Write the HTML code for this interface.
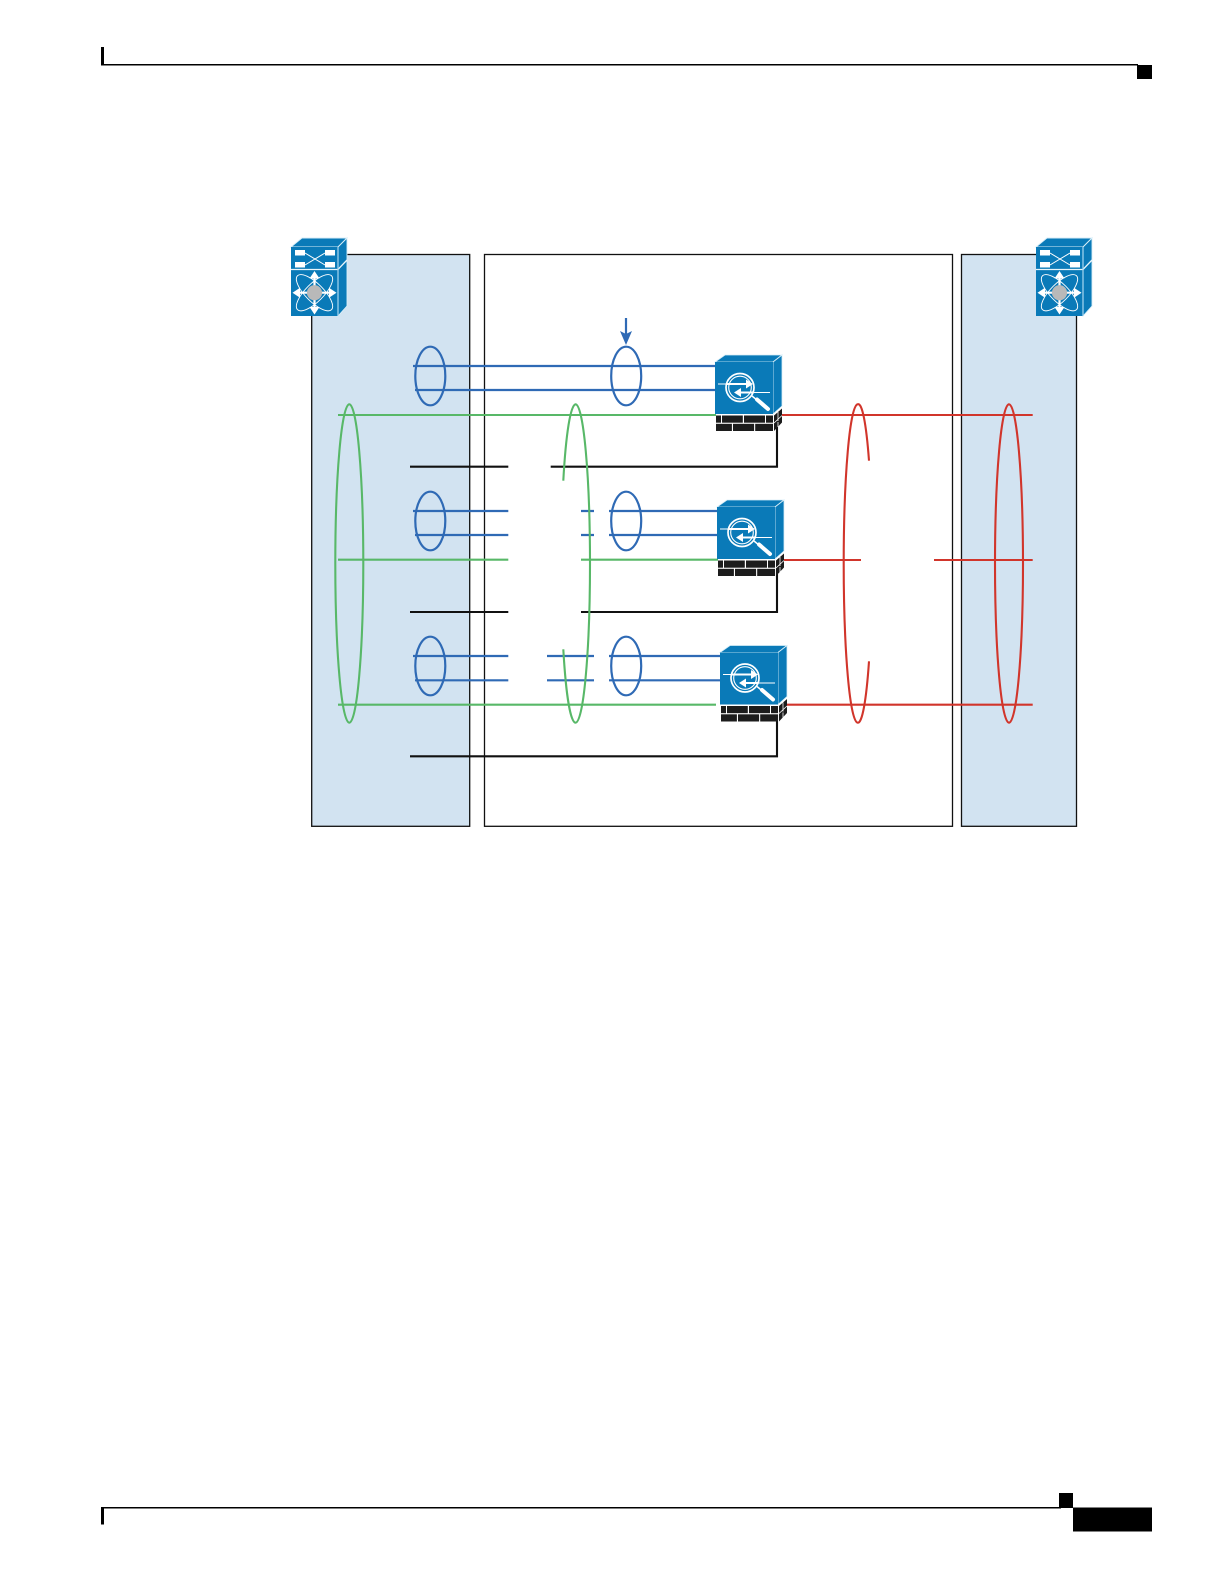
<!DOCTYPE html>
<html>
<head>
<meta charset="utf-8">
<style>
html,body{margin:0;padding:0;background:#fff;}
svg{display:block;}
</style>
</head>
<body>
<svg xmlns="http://www.w3.org/2000/svg" width="1224" height="1584" viewBox="0 0 1224 1584">
<defs>
<g id="sw">
  <polygon points="291,247 302,238 347,238 338,247" fill="#0a7ab8" stroke="#d8eef8" stroke-width=".9"/>
  <polygon points="338,247 347,238 347,306 338,316" fill="#0a7ab8" stroke="#d8eef8" stroke-width=".9"/>
  <rect x="291" y="247" width="47" height="69" fill="#0a7ab8"/>
  <path d="M291,269.500H338L347,260" stroke="#e8f5fb" stroke-width="1.300" fill="none"/>
  <path d="M338,247V316" stroke="#a8d8f0" stroke-width="1.200"/>
  <g fill="#fff">
    <rect x="295" y="250" width="10" height="5.500"/><rect x="325" y="250" width="10" height="5.500"/>
    <rect x="295" y="262" width="10" height="5.500"/><rect x="325" y="262" width="10" height="5.500"/>
  </g>
  <path d="M305,253L325,265M305,265L325,253" stroke="#fff" stroke-width="1" fill="none"/>
  <ellipse cx="314.500" cy="292.700" rx="24" ry="9" transform="rotate(45 314.500 292.700)" fill="none" stroke="#fff" stroke-width=".9"/>
  <ellipse cx="314.500" cy="292.700" rx="24" ry="9" transform="rotate(-45 314.500 292.700)" fill="none" stroke="#fff" stroke-width=".9"/>
  <path d="M314.500,276V310M297,292.700H332" stroke="#fff" stroke-width="2.200"/>
  <g fill="#fff">
    <polygon points="314.500,271 309.500,278.500 319.500,278.500"/>
    <polygon points="314.500,314.500 309.500,307 319.500,307"/>
    <polygon points="292.500,292.700 300,287.700 300,297.700"/>
    <polygon points="336.500,292.700 329,287.700 329,297.700"/>
  </g>
  <circle cx="314.500" cy="292.700" r="7.600" fill="#b9b9b9"/>
</g>
<g id="dev">
  <polygon points="0,0 10,-7 67,-7 58,0" fill="#0a7ab8" stroke="#d8eef8" stroke-width=".8"/>
  <polygon points="58,0 67,-7 67,44 58,52" fill="#0a7ab8" stroke="#d8eef8" stroke-width=".8"/>
  <rect x="0" y="0" width="58" height="52" fill="#0a7ab8"/>
  <path d="M3,22H37M22,30.500H55" stroke="#fff" stroke-width="1"/>
  <circle cx="25" cy="25.500" r="14" fill="none" stroke="#fff" stroke-width="1.700"/>
  <circle cx="25" cy="25.500" r="11.300" fill="none" stroke="#fff" stroke-width="1.100"/>
  <path d="M37,34L53,47" stroke="#fff" stroke-width="1.500"/>
  <path d="M42,37.500L53,47" stroke="#fff" stroke-width="4" stroke-linecap="round"/>
  <path d="M12,22H34M24,30.500H38" stroke="#fff" stroke-width="2"/>
  <polygon points="38,22 31,17.500 31,26.500" fill="#fff"/>
  <polygon points="19,30.500 26,26 26,35" fill="#fff"/>
  <g fill="#1c1c1c">
    <rect x="1" y="53.500" width="5" height="7.200"/><rect x="7" y="53.500" width="20.800" height="7.200"/>
    <rect x="29" y="53.500" width="21" height="7.200"/><rect x="51" y="53.500" width="7" height="7.200"/>
    <rect x="1" y="61.800" width="15.900" height="7.200"/><rect x="18" y="61.800" width="21.100" height="7.200"/>
    <rect x="40.200" y="61.800" width="17.800" height="7.200"/>
    <polygon points="59,53.500 67,46.500 67,60.500 59,69"/>
  </g>
  <path d="M59,61L67,53.500M63,50V59M63,60V65" stroke="#fff" stroke-width=".8" fill="none"/>
</g>
</defs>

<!-- page furniture -->
<rect x="101" y="47" width="3" height="18" fill="#000"/>
<rect x="101" y="64" width="1037" height="1.500" fill="#000"/>
<rect x="1137" y="65" width="15" height="14" fill="#000"/>
<rect x="101" y="1507" width="3" height="17.500" fill="#000"/>
<rect x="101" y="1507" width="960" height="1.500" fill="#000"/>
<rect x="1059" y="1493" width="14" height="15" fill="#000"/>
<rect x="1073" y="1507.500" width="79" height="24" fill="#000"/>

<!-- panels -->
<rect x="311.700" y="254.500" width="158" height="571.800" fill="#d2e3f1" stroke="#111" stroke-width="1.300"/>
<rect x="484.500" y="254.500" width="468" height="571.800" fill="#fff" stroke="#111" stroke-width="1.300"/>
<rect x="961.500" y="254.500" width="115" height="571.800" fill="#d2e3f1" stroke="#111" stroke-width="1.300"/>

<!-- black lines -->
<g stroke="#111" stroke-width="2.100" fill="none">
  <path d="M410,466.700H508.300M550.700,466.700H777V425"/>
  <path d="M410,612H508.300M581,612H777V570"/>
  <path d="M410,756.300H777V715"/>
</g>

<!-- blue lines -->
<g stroke="#2f6ab5" stroke-width="2.200" fill="none">
  <path d="M413,366H716M415,390H716"/>
  <path d="M413,511H508.300M581,511H594M609,511H718"/>
  <path d="M415,535H508.300M581,535H594M609,535H718"/>
  <path d="M413,656H508.300M547,656H594M609,656H721"/>
  <path d="M415,680.300H508.300M547,680.300H594M609,680.300H721"/>
  <ellipse cx="430.300" cy="376" rx="15" ry="29.300"/>
  <ellipse cx="430.300" cy="521" rx="15" ry="29.300"/>
  <ellipse cx="430.300" cy="666" rx="15" ry="29.300"/>
  <ellipse cx="626.200" cy="376" rx="15" ry="29.300"/>
  <ellipse cx="626.200" cy="521" rx="15" ry="29.300"/>
  <ellipse cx="626.200" cy="666" rx="15" ry="29.300"/>
  <path d="M626,318V336"/>
</g>
<polygon points="626,345 620,331 626,334 632,331" fill="#2f6ab5"/>

<!-- green lines -->
<g stroke="#58b868" stroke-width="2.100" fill="none">
  <path d="M338,415H716"/>
  <path d="M338,559.700H508.300M581,559.700H718"/>
  <path d="M338,704.700H716"/>
  <ellipse cx="349.300" cy="563.500" rx="14" ry="159.200"/>
  <path d="M563.300,480.700A14.500,159.200 0 0 1 575.500,404.300A14.500,159.200 0 0 1 575.500,722.700A14.500,159.200 0 0 1 563.300,649.300"/>
</g>

<!-- red lines -->
<g stroke="#d1352b" stroke-width="2.100" fill="none">
  <path d="M780,415H1032.700"/>
  <path d="M782,560H861M934,560H1032.700"/>
  <path d="M785,704.700H1032.700"/>
  <ellipse cx="1009" cy="563.500" rx="14" ry="159.200"/>
  <path d="M869,460.700A14,159.200 0 0 0 857.700,404.300A14,159.200 0 0 0 857.700,722.700A14,159.200 0 0 0 869,661.300"/>
</g>

<!-- icons -->
<use href="#sw"/>
<use href="#sw" transform="translate(745,0)"/>
<use href="#dev" transform="translate(715,362)"/>
<use href="#dev" transform="translate(717,507)"/>
<use href="#dev" transform="translate(720,652.500)"/>
</svg>
</body>
</html>
